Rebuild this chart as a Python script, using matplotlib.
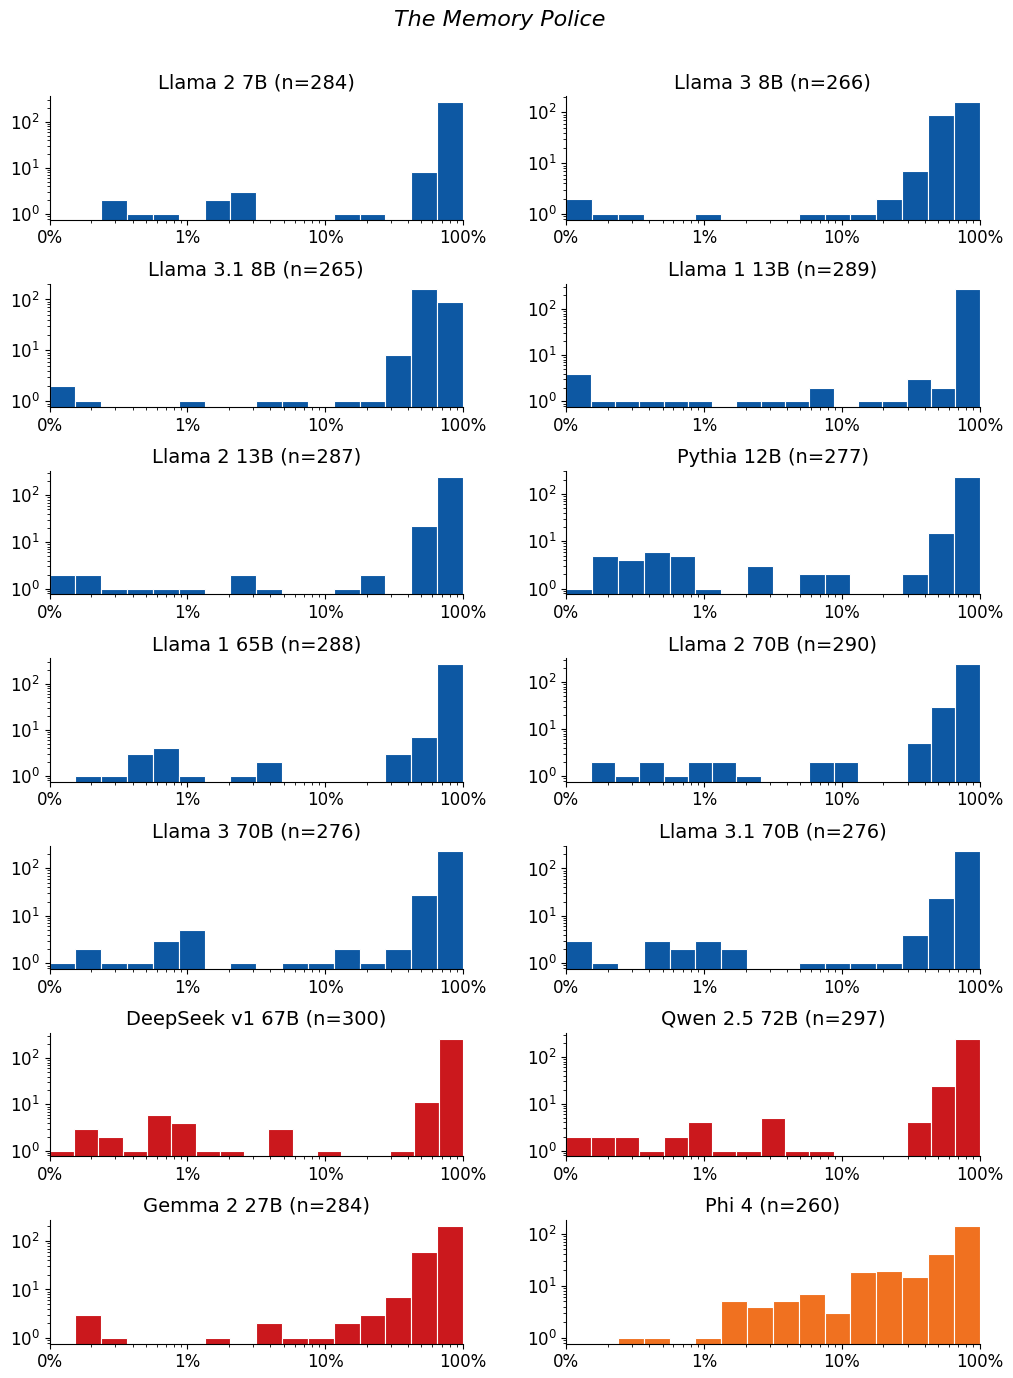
"""Per-model histograms of memorisation fraction, log-log, 7x2 grid."""

import numpy as np
import matplotlib
matplotlib.use("Agg")
import matplotlib.pyplot as plt
from matplotlib.ticker import PercentFormatter

# =========================================================================
# DATA  (bin counts; bins = logspace(0.1%, 100%))
# =========================================================================
MODEL_NAMES = [
    "Llama 2 7B", "Llama 3 8B",
    "Llama 3.1 8B", "Llama 1 13B",
    "Llama 2 13B", "Pythia 12B",
    "Llama 1 65B", "Llama 2 70B",
    "Llama 3 70B", "Llama 3.1 70B",
    "DeepSeek v1 67B", "Qwen 2.5 72B",
    "Gemma 2 27B", "Phi 4",
]

LLAMA2_7B = [0, 0, 2, 1, 1, 0, 2, 3, 0, 0, 0, 1, 1, 0, 8, 265]
LLAMA3_8B = [2, 1, 1, 0, 0, 1, 0, 0, 0, 1, 1, 1, 2, 7, 89, 160]
LLAMA31_8B = [2, 1, 0, 0, 0, 1, 0, 0, 1, 1, 0, 1, 1, 8, 158, 91]
LLAMA1_13B = [4, 1, 1, 1, 1, 1, 0, 1, 1, 1, 2, 0, 1, 1, 3, 2, 268]
LLAMA2_13B = [2, 2, 1, 1, 1, 1, 0, 2, 1, 0, 0, 1, 2, 0, 22, 251]
PYTHIA_12B = [1, 5, 4, 6, 5, 1, 0, 3, 0, 2, 2, 0, 0, 2, 15, 231]
LLAMA1_65B = [0, 1, 1, 3, 4, 1, 0, 1, 2, 0, 0, 0, 0, 3, 7, 265]
LLAMA2_70B = [0, 2, 1, 2, 1, 2, 2, 1, 0, 0, 2, 2, 0, 0, 5, 29, 241]
LLAMA3_70B = [1, 2, 1, 1, 3, 5, 0, 1, 0, 1, 1, 2, 1, 2, 27, 228]
LLAMA31_70B = [3, 1, 0, 3, 2, 3, 2, 0, 0, 1, 1, 1, 1, 4, 24, 230]
DEEPSEEK_67B = [1, 3, 2, 1, 6, 4, 1, 1, 0, 3, 0, 1, 0, 0, 1, 11, 265]
QWEN25_72B = [2, 2, 2, 1, 2, 4, 1, 1, 5, 1, 1, 0, 0, 0, 4, 24, 247]
GEMMA2_27B = [0, 3, 1, 0, 0, 0, 1, 0, 2, 1, 1, 2, 3, 7, 58, 205]
PHI_4 = [0, 0, 1, 1, 0, 1, 5, 4, 5, 7, 3, 18, 19, 15, 41, 140]

BIN_COUNTS = [
    LLAMA2_7B, LLAMA3_8B,
    LLAMA31_8B, LLAMA1_13B,
    LLAMA2_13B, PYTHIA_12B,
    LLAMA1_65B, LLAMA2_70B,
    LLAMA3_70B, LLAMA31_70B,
    DEEPSEEK_67B, QWEN25_72B,
    GEMMA2_27B, PHI_4,
]

# model family -> bar colour
BLUE = "#0d58a3"
RED = "#cb181d"
ORANGE = "#f07120"
FAMILY = ["blue"] * 10 + ["red"] * 3 + ["orange"]
COLOR_MAP = {"blue": BLUE, "red": RED, "orange": ORANGE}


# =========================================================================
# DRAWING
# =========================================================================

def _draw_panel(ax, name, counts, color):
    edges = np.logspace(-3, 0, len(counts) + 1)
    centers = np.sqrt(edges[:-1] * edges[1:])
    ax.hist(centers, bins=edges, weights=counts, log=True,
            color=color, edgecolor="white", linewidth=0.8)
    ax.set_xscale("log")
    ax.set_xlim(1e-3, 1)
    ax.xaxis.set_major_formatter(PercentFormatter(xmax=1, decimals=0))
    ax.set_title(f"{name} (n={sum(counts)})", fontsize=14)
    ax.tick_params(labelsize=12)
    ax.spines["top"].set_visible(False)
    ax.spines["right"].set_visible(False)


def main():
    fig, axes = plt.subplots(7, 2, figsize=(10.13, 13.78), dpi=100)
    fig.subplots_adjust(left=0.049, right=0.967, top=0.930, bottom=0.025,
                        wspace=0.25, hspace=0.52)

    for ax, name, counts, fam in zip(axes.flat, MODEL_NAMES, BIN_COUNTS, FAMILY):
        _draw_panel(ax, name, counts, COLOR_MAP[fam])

    fig.suptitle("The Memory Police", fontsize=16, style="italic",
                 x=0.493, y=0.993)
    fig.savefig("out.png", dpi=100)
    plt.close(fig)


if __name__ == "__main__":
    main()
